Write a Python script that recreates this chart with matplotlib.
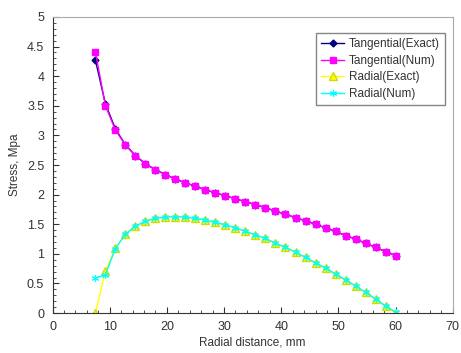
import matplotlib.pyplot as plt
import numpy as np

# valores
raio = [7.5, 9.25, 11, 12.75, 14.5, 16.25, 18, 19.75, 21.5, 23.25, 25, 26.75,
        28.5, 30.25, 32, 33.75, 35.5, 37.25, 39, 40.75, 42.5, 44.25, 46, 47.75,
        49.5, 51.25, 53, 54.75, 56.5, 58.25, 60]

tang_exato = [4.27, 3.53, 3.11, 2.84, 2.66, 2.52, 2.42, 2.34, 2.26, 2.20, 2.14,
              2.08, 2.03, 1.98, 1.93, 1.88, 1.83, 1.78, 1.72, 1.67, 1.61, 1.56,
              1.50, 1.44, 1.38, 1.31, 1.25, 1.18, 1.11, 1.04, 0.97]
tang_num = [4.41, 3.50, 3.09, 2.84, 2.66, 2.52, 2.42, 2.34, 2.26, 2.20, 2.14,
            2.08, 2.03, 1.98, 1.93, 1.88, 1.83, 1.78, 1.72, 1.67, 1.61, 1.56,
            1.50, 1.44, 1.38, 1.31, 1.25, 1.18, 1.11, 1.04, 0.97]
rad_exato = [0.0, 0.71, 1.10, 1.33, 1.47, 1.55, 1.60, 1.62, 1.63, 1.62, 1.60,
             1.57, 1.53, 1.49, 1.44, 1.38, 1.32, 1.26, 1.18, 1.11, 1.03, 0.94,
             0.85, 0.76, 0.66, 0.56, 0.46, 0.35, 0.24, 0.12, 0.0]
rad_num = [0.59, 0.65, 1.09, 1.33, 1.47, 1.55, 1.60, 1.62, 1.63, 1.62, 1.60,
           1.57, 1.53, 1.49, 1.44, 1.38, 1.32, 1.26, 1.18, 1.11, 1.03, 0.94,
           0.85, 0.76, 0.66, 0.56, 0.46, 0.35, 0.24, 0.12, 0.02]

plt.rcParams['font.family'] = ['Liberation Sans', 'DejaVu Sans']

fig = plt.figure(figsize=(4.61, 3.53), dpi=100)
ax = fig.add_axes([0.114, 0.113, 0.868, 0.839])

ax.plot(raio, tang_exato, color='#000080', lw=1, marker='D', ms=3.5,
        label='Tangential(Exact)')
ax.plot(raio, tang_num, color='#ff00ff', lw=1, marker='s', ms=5,
        label='Tangential(Num)')
ax.plot(raio, rad_exato, color='#ffff00', lw=1, marker='^', ms=5.5,
        mec='#d8d800', label='Radial(Exact)')
ax.plot(raio, rad_num, color='#00ffff', lw=1, marker=(6, 2, 0), ms=5,
        mew=0.8, label='Radial(Num)')

ax.set_xlim(0, 70)
ax.set_ylim(0, 5)
ax.set_xticks(np.arange(0, 71, 10))
ax.set_yticks(np.arange(0, 5.01, 0.5))
ax.set_yticklabels(['0', '0.5', '1', '1.5', '2', '2.5', '3', '3.5', '4', '4.5', '5'])
ax.set_xticks(np.arange(0, 71, 2), minor=True)
ax.set_yticks(np.arange(0, 5.01, 0.1), minor=True)
ax.tick_params(which='both', direction='in', colors='#333333', labelsize=9)
ax.tick_params(which='major', length=4, pad=6)
ax.tick_params(which='minor', length=2.5)
ax.tick_params(top=False, right=False)

for lado in ['top', 'right']:
    ax.spines[lado].set_color('#aaaaaa')
for lado in ['left', 'bottom']:
    ax.spines[lado].set_color('#333333')

ax.set_xlabel('Radial distance, mm', fontsize=8.5, color='#333333', labelpad=2)
ax.set_ylabel('Stress, Mpa', fontsize=8.5, color='#333333', labelpad=4)

leg = ax.legend(loc='upper right', fontsize=8.5, frameon=True, fancybox=False,
                edgecolor='#666666', borderpad=0.4, handlelength=2,
                handletextpad=0.4, labelspacing=0.4,
                bbox_to_anchor=(0.995, 0.965))
leg.get_frame().set_linewidth(1)
for texto in leg.get_texts():
    texto.set_color('#333333')

fig.savefig('out.png', dpi=100)
